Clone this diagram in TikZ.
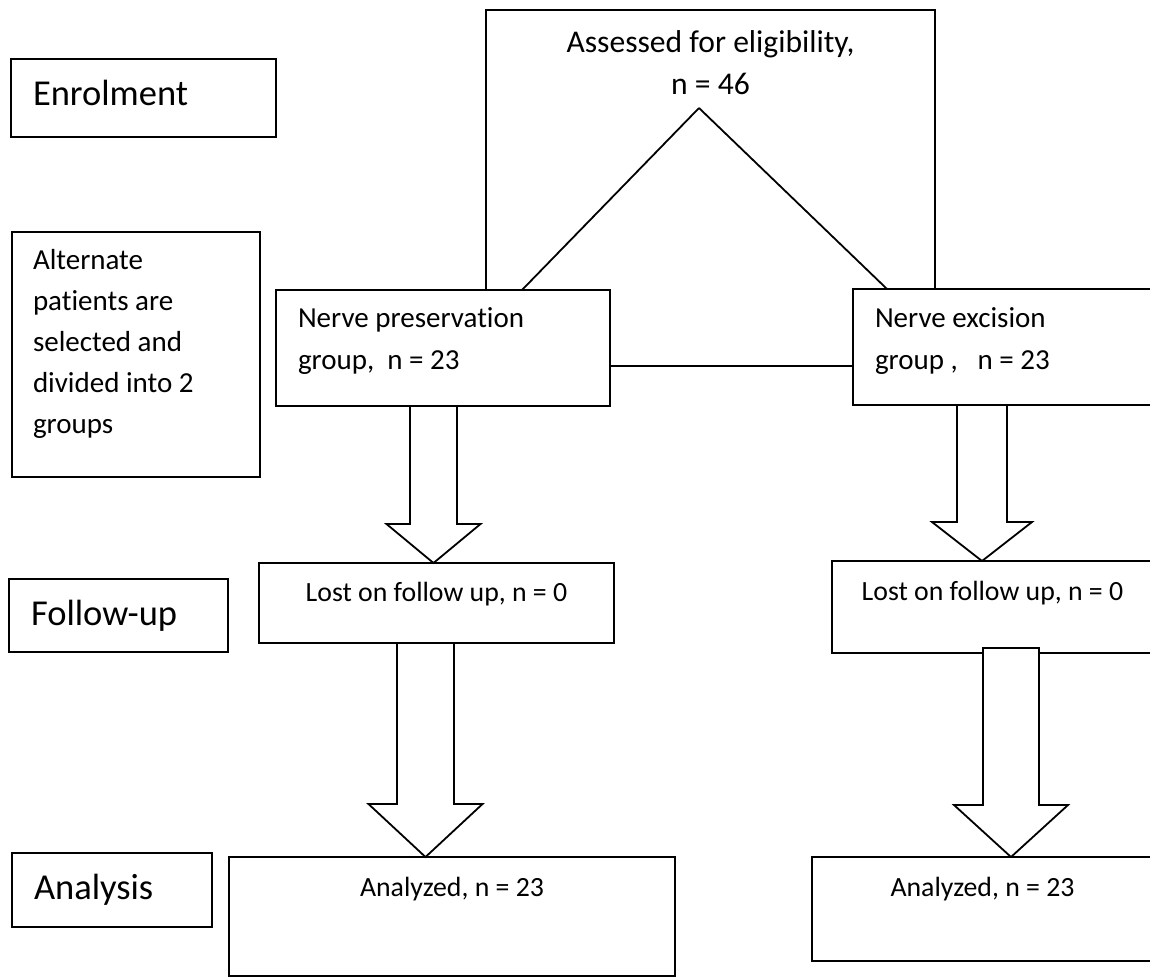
\documentclass[tikz,border=0pt]{standalone}
\usepackage{fontspec}
\setmainfont{Carlito}[Ligatures={NoCommon}]
\usetikzlibrary{calc}

% strut that pushes the box text upwards
\newcommand{\padbelow}[1]{\rule[-#1pt]{0pt}{#1pt}}
% hollow block arrow: start, tip, shaft half width, head half width, head length
\newcommand{\blockarrow}[5]{%
  \draw[blockarrow] let \p1 = (#1), \p2 = (#2) in
    (\x1-#3pt,\y1) -- (\x1-#3pt,\y2+#5pt) -- (\x1-#4pt,\y2+#5pt) -- (\x1,\y2)
    -- (\x1+#4pt,\y2+#5pt) -- (\x1+#3pt,\y2+#5pt) -- (\x1+#3pt,\y1) -- cycle;}

\begin{document}
\begin{tikzpicture}[
    x=1pt, y=-1pt,
    box/.style={draw, line width=1.8pt, fill=white, anchor=north west,
                inner ysep=0pt, outer sep=0pt, align=left,
                execute at begin node={\spaceskip=0pt\xspaceskip=0pt}},
    stage/.style={box, font=\fontsize{36.5}{44}\selectfont, inner xsep=22pt},
    group/.style={box, font=\fontsize{29}{42}\selectfont, inner xsep=22pt},
    count/.style={box, font=\fontsize{27.8}{34}\selectfont, align=center, inner xsep=0pt},
    split/.style={line width=1.8pt},
    blockarrow/.style={draw, line width=1.8pt, fill=white, line join=miter}
  ]
  \useasboundingbox (0,0) rectangle (1150,978);

  \node[box, font=\fontsize{31.6}{42}\selectfont, align=flush center, inner xsep=22pt, text width=405pt,
        minimum height=356pt] (assess) at (486,10) {Assessed for eligibility,\\n = 46\padbelow{250}};

  % stages
  \node[stage, text width=221pt, minimum height=78pt] (enrol) at (11,59) {Enrolment\padbelow{11}};
  \node[group, font=\fontsize{29}{41}\selectfont, inner xsep=21pt, text width=206pt,
        minimum height=245pt] (alt) at (12,232) {Alternate\\patients are\\selected and\\divided into 2\\groups\padbelow{26}};
  \node[stage, text width=175pt, minimum height=73pt] (follow) at (9,579) {Follow-up};
  \node[stage, text width=156pt, minimum height=74pt] (analysis) at (12,853) {Analysis};

  % groups
  \node[group, text width=290pt, minimum height=116pt] (prs) at (276,290) {Nerve preservation\\group,~~n = 23\padbelow{18}};
  \node[group, text width=256pt, minimum height=116pt] (exc) at (853,289) {Nerve excision\\group ,~~~n = 23\padbelow{17}};

  \node[count, minimum width=355pt, minimum height=80pt] (lostL) at (259,563) {Lost on follow up, n = 0\padbelow{22}};
  \node[count, minimum width=321pt, minimum height=92pt] (lostR) at (832,561) {Lost on follow up, n = 0\padbelow{32}};
  \node[count, minimum width=446pt, minimum height=119pt] (anaL) at (229,857) {Analyzed, n = 23\padbelow{59}};
  \node[count, minimum width=341pt, minimum height=104pt] (anaR) at (812,857) {Analyzed, n = 23\padbelow{44}};

  % split into the two groups
  \coordinate (apex) at ([shift={(213,98)}]assess.north west);
  \draw[split] (apex) -- ([xshift=246pt]prs.north west);
  \draw[split] (apex) -- ([xshift=34pt]exc.north west);

  % block arrows
  \coordinate (a1) at ([xshift=157.5pt]prs.south west);
  \coordinate (a2) at ([xshift=129pt]exc.south west);
  \coordinate (a3) at ([xshift=166.5pt]lostL.south west);
  \coordinate (a4) at ([shift={(179pt,5pt)}]lostR.south west);
  \blockarrow{a1}{a1 |- lostL.north}{23.5}{47}{39}
  \blockarrow{a2}{a2 |- lostR.north}{25}{50}{39}
  \blockarrow{a3}{a3 |- anaL.north}{28.5}{57}{53}
  \blockarrow{a4}{a4 |- anaR.north}{28}{57}{52}
\end{tikzpicture}
\end{document}
